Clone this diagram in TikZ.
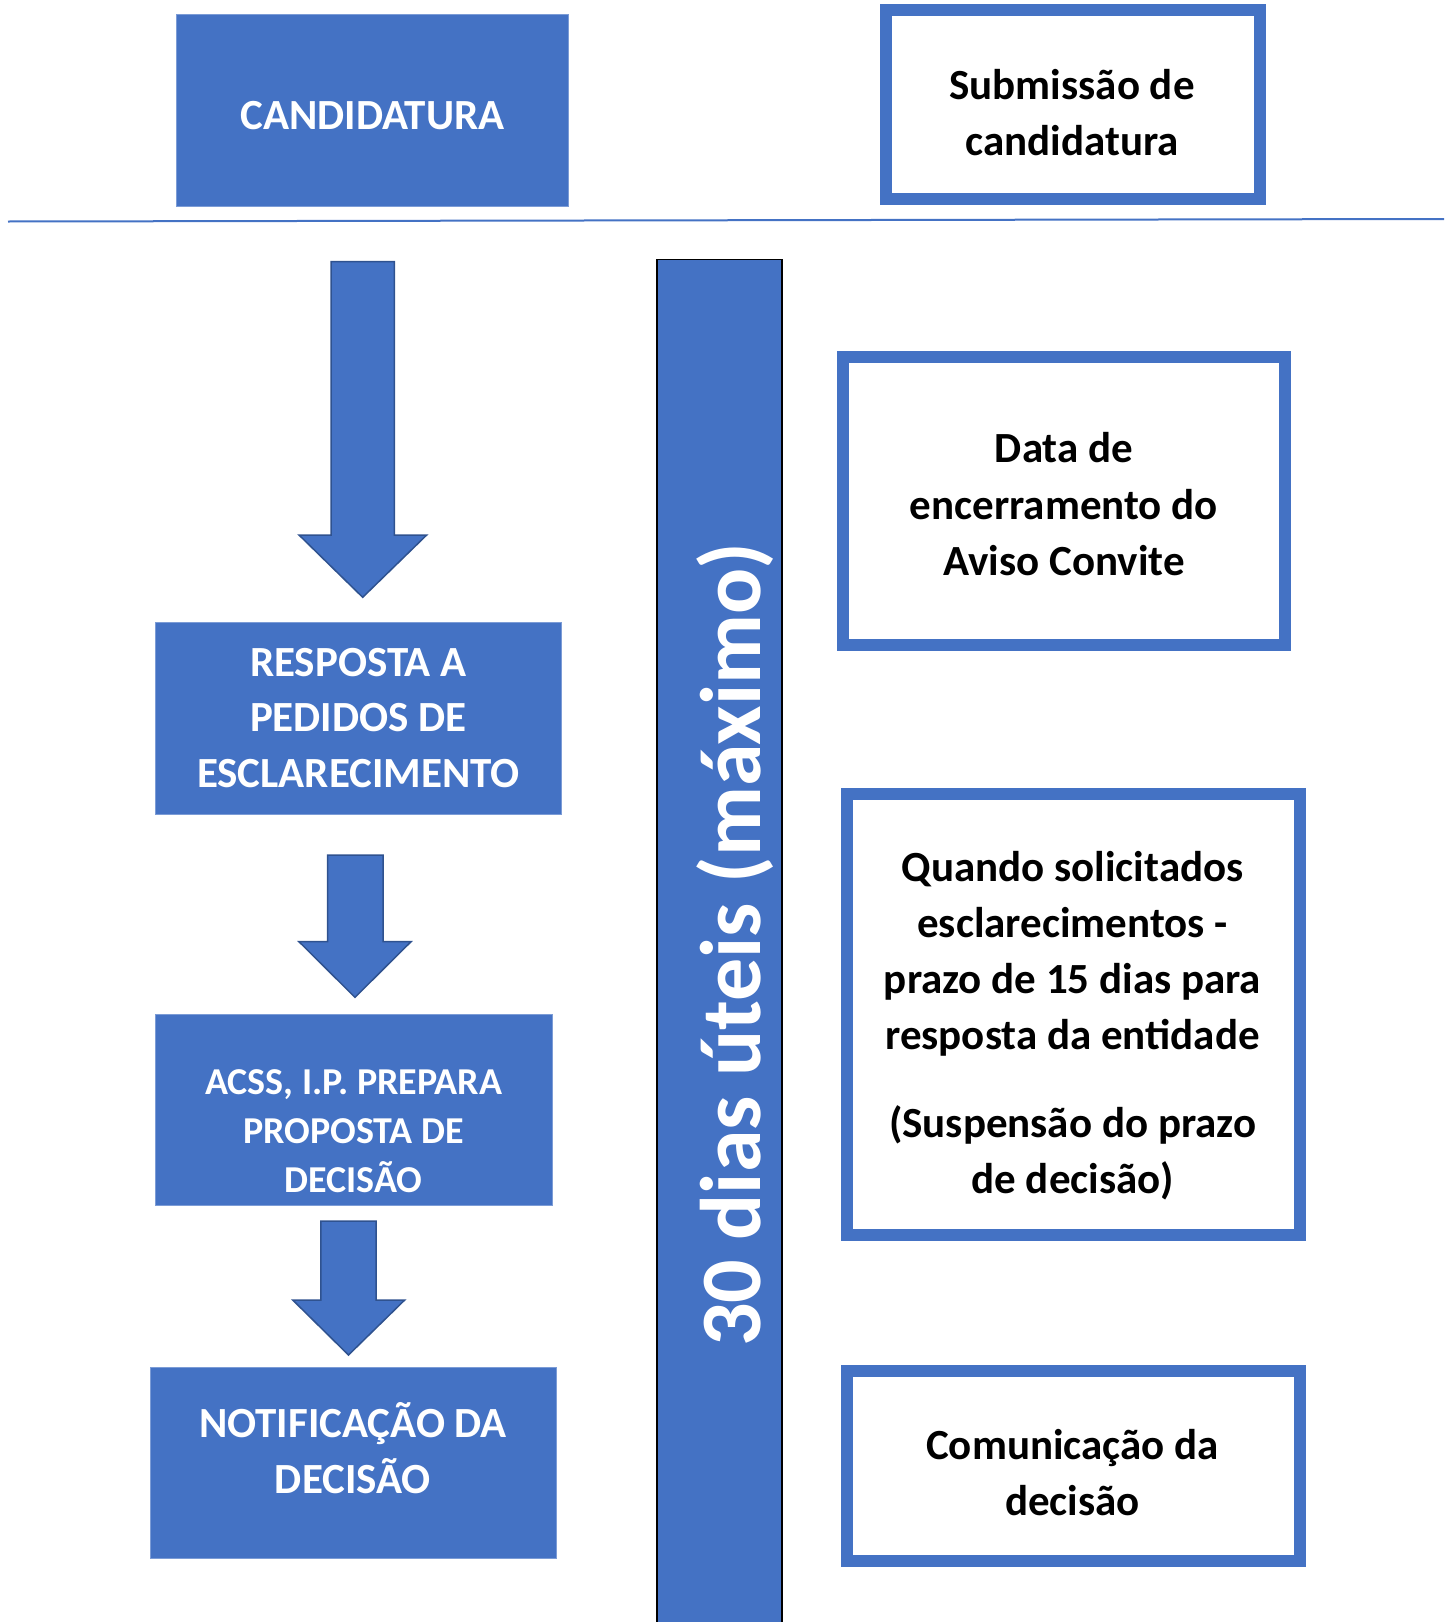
\documentclass[tikz,border=0pt]{standalone}
\usepackage{fontspec}
\setmainfont{Carlito}
\definecolor{acblue}{HTML}{4472C4}
\definecolor{acdark}{HTML}{2F528F}
\tikzset{
  bluebox/.style={fill=acblue, draw=acblue!70!white, line width=0.8pt, inner sep=0pt, outer sep=0pt},
  whitebox/.style={fill=white, draw=acblue, line width=12pt, inner sep=0pt, outer sep=0pt},
  wtxt/.style={text=white, font=\bfseries\fontsize{43}{56}\selectfont, align=flush center, text width=460pt, inner sep=0pt, anchor=base},
  btxt/.style={text=black, font=\bfseries\fontsize{43}{56}\selectfont, align=flush center, text width=460pt, inner sep=0pt, anchor=base},
  blockarrow/.style={fill=acblue, draw=acdark, line width=1.5pt, line join=miter},
  rulestyle/.style={draw=acblue, line width=2pt},
  barstyle/.style={fill=acblue, draw=black, line width=1.5pt},
}
\begin{document}
\begin{tikzpicture}[x=1pt, y=-1pt]
\useasboundingbox (0,0) rectangle (1453,1622);
% left column boxes
\node[bluebox, minimum width=392pt, minimum height=192pt] (cand) at (372,110.7) {};
\node[wtxt] (candt) at (372.5,129) {CANDIDATURA};
\node[bluebox, minimum width=405.4pt, minimum height=191.6pt] (resp) at (358.3,718.5) {};
\node[wtxt, font=\bfseries\fontsize{43}{55.7}\selectfont] (respt) at (358.4,676) {RESPOSTA A\\PEDIDOS DE\\ESCLARECIMENTO};
\node[bluebox, minimum width=396.5pt, minimum height=191.7pt] (acss) at (353.8,1110) {};
\node[wtxt, font=\bfseries\fontsize{38}{49}\selectfont] (acsst) at (353.7,1094) {ACSS, I.P. PREPARA\\PROPOSTA DE\\DECISÃO};
\node[bluebox, minimum width=405.5pt, minimum height=191pt] (notif) at (353.3,1463) {};
\node[wtxt, font=\bfseries\fontsize{43}{55.5}\selectfont] (notift) at (353,1437.7) {NOTIFICAÇÃO DA\\DECISÃO};
% block arrows
\draw[blockarrow] (331,261.7) -- (394.3,261.7) -- (394.3,535) -- (426.7,535) -- (362.7,597.3) -- (299,535) -- (331,535) -- cycle;
\draw[blockarrow] (327.5,855) -- (383,855) -- (383,941.7) -- (411,941.7) -- (355,997.3) -- (299,941.7) -- (327.5,941.7) -- cycle;
\draw[blockarrow] (320.8,1221) -- (376,1221) -- (376,1300) -- (404.7,1300) -- (348.5,1355) -- (292.7,1300) -- (320.8,1300) -- cycle;
% horizontal rule
\coordinate (rl) at (8,221.5);
\coordinate (rr) at (1444,219);
\draw[rulestyle] (rl) -- (rr);
% vertical bar
\draw[barstyle] (657,259.5) rectangle (782,1630);
\node[rotate=90, anchor=base, text=white, font=\bfseries\fontsize{86}{100}\selectfont, inner sep=0pt] (bart) at (760.5,945) {30 dias úteis (máximo)};
% right column boxes
\node[whitebox, minimum width=374pt, minimum height=189pt] (subm) at (1073,104.5) {};
\node[btxt] (submt) at (1072,99) {Submissão de\\candidatura};
\node[whitebox, minimum width=442pt, minimum height=288pt] (data) at (1064,501.3) {};
\node[btxt, font=\bfseries\fontsize{43}{56.5}\selectfont] (datat) at (1064,462.7) {Data de\\encerramento do\\Aviso Convite};
\node[whitebox, minimum width=453.4pt, minimum height=441.6pt] (quando) at (1073.4,1014.5) {};
\node[btxt] (quandot) at (1072.5,881) {Quando solicitados\\esclarecimentos -\\prazo de 15 dias para\\resposta da entidade\\[32pt](Suspensão do prazo\\de decisão)};
\node[whitebox, minimum width=453pt, minimum height=190pt] (comun) at (1073,1466.3) {};
\node[btxt] (comunt) at (1072.5,1459.3) {Comunicação da\\decisão};
\end{tikzpicture}
\end{document}
